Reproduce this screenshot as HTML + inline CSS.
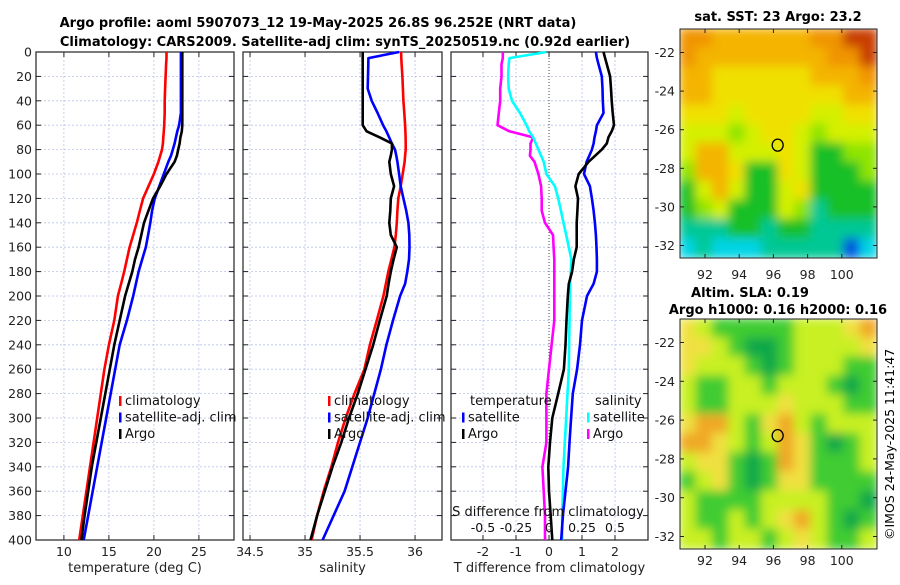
<!DOCTYPE html>
<html><head><meta charset="utf-8"><style>
body{margin:0;background:#fff;width:900px;height:580px;overflow:hidden}
svg{font-family:"DejaVu Sans","Liberation Sans",sans-serif}
</style></head><body>
<svg id="fig" width="900" height="580" xmlns="http://www.w3.org/2000/svg">
<defs><filter id="bl" x="0" y="0" width="1" height="1"><feGaussianBlur stdDeviation="5"/></filter>
<clipPath id="c1"><rect x="680" y="29" width="197" height="229"/></clipPath>
<clipPath id="c2"><rect x="680" y="319" width="197" height="230"/></clipPath></defs>
<text x="318" y="27" text-anchor="middle" font-size="13" font-weight="bold">Argo profile: aoml 5907073_12 19-May-2025 26.8S 96.252E (NRT data)</text>
<text x="345" y="46" text-anchor="middle" font-size="13" font-weight="bold">Climatology: CARS2009. Satellite-adj clim: synTS_20250519.nc (0.92d earlier)</text>
<g id="plots"></g>
<g id="maps"></g>
<text x="778" y="21" text-anchor="middle" font-size="13" font-weight="bold">sat. SST: 23 Argo: 23.2</text>
<text x="750" y="297" text-anchor="middle" font-size="13" font-weight="bold">Altim. SLA: 0.19</text>
<text x="778" y="314" text-anchor="middle" font-size="13" font-weight="bold">Argo h1000: 0.16 h2000: 0.16</text>
<text transform="translate(894,540) rotate(-90)" font-size="12.5">©IMOS 24-May-2025 11:41:47</text>
</svg>
<script>
const depths=[0,5,10,20,30,40,50,60,65,70,75,80,85,90,100,110,120,130,140,150,160,170,180,190,200,220,240,260,280,300,320,340,360,380,400];
const tempClim=[21.4,21.4,21.35,21.3,21.25,21.2,21.2,21.15,21.1,21.05,21.0,20.9,20.7,20.5,20.0,19.4,18.8,18.45,18.1,17.7,17.3,17.0,16.7,16.35,16.0,15.6,15.0,14.5,14.1,13.7,13.3,12.9,12.5,12.1,11.7];
const tempSat=[23.0,23.0,23.0,23.0,23.0,23.0,23.0,22.8,22.6,22.45,22.3,22.1,21.9,21.6,21.1,20.6,20.1,19.8,19.6,19.35,19.1,18.7,18.3,18.0,17.7,17.0,16.2,15.7,15.2,14.7,14.2,13.7,13.2,12.7,12.2];
const tempArgo=[23.15,23.15,23.15,23.15,23.15,23.15,23.15,23.15,23.1,22.95,22.85,22.7,22.55,22.3,21.4,20.7,19.9,19.4,18.9,18.6,18.3,17.9,17.6,17.2,16.8,16.2,15.6,15.1,14.6,14.1,13.6,13.1,12.7,12.3,11.95];
const salClim=[35.873,35.875,35.878,35.885,35.89,35.894,35.902,35.91,35.912,35.914,35.915,35.915,35.91,35.905,35.888,35.87,35.848,35.84,35.834,35.825,35.812,35.785,35.757,35.735,35.712,35.652,35.59,35.54,35.45,35.37,35.30,35.24,35.17,35.11,35.06];
const salSat=[35.855,35.576,35.575,35.572,35.57,35.606,35.66,35.71,35.74,35.765,35.79,35.818,35.83,35.84,35.855,35.87,35.894,35.92,35.94,35.948,35.95,35.945,35.93,35.91,35.864,35.80,35.74,35.69,35.63,35.57,35.50,35.43,35.36,35.26,35.16];
const salArgo=[35.524,35.524,35.524,35.524,35.524,35.524,35.524,35.524,35.56,35.68,35.79,35.79,35.78,35.766,35.78,35.81,35.78,35.775,35.766,35.78,35.834,35.805,35.78,35.76,35.742,35.68,35.62,35.55,35.48,35.40,35.33,35.25,35.18,35.11,35.05];
const tdiffArgo=[1.65,1.7,1.75,1.85,1.88,1.9,1.93,1.97,1.9,1.8,1.75,1.6,1.4,1.2,0.9,0.8,0.88,0.86,0.84,0.84,0.84,0.75,0.7,0.6,0.57,0.53,0.5,0.45,0.28,0.1,0.03,-0.02,0.0,0.05,0.1];
const tdiffSat=[1.42,1.45,1.5,1.6,1.62,1.63,1.65,1.45,1.42,1.38,1.35,1.3,1.22,1.14,1.06,1.24,1.3,1.35,1.39,1.42,1.44,1.45,1.45,1.35,1.15,1.0,0.94,0.85,0.72,0.67,0.62,0.58,0.5,0.42,0.37];
const sdiffArgo=[-0.35,-0.35,-0.36,-0.36,-0.37,-0.37,-0.38,-0.39,-0.3,-0.12,-0.14,-0.14,-0.145,-0.11,-0.08,-0.06,-0.055,-0.055,-0.03,0.03,0.035,0.04,0.04,0.04,0.04,0.04,0.02,0.0,-0.02,-0.02,-0.02,-0.05,-0.04,-0.03,-0.03];
const sdiffSat=[-0.02,-0.30,-0.305,-0.31,-0.305,-0.28,-0.22,-0.17,-0.15,-0.12,-0.1,-0.08,-0.06,-0.04,-0.02,0.045,0.07,0.09,0.11,0.13,0.15,0.17,0.165,0.16,0.158,0.155,0.152,0.15,0.14,0.13,0.12,0.11,0.105,0.1,0.1];
const depthTicks=[0,20,40,60,80,100,120,140,160,180,200,220,240,260,280,300,320,340,360,380,400];
const tempTicks=[10,15,20,25];
const salTicks=[34.5,35,35.5,36];
const tdiffTicks=[-2,-1,0,1,2];
const sdiffTicks=[-0.5,-0.25,0,0.25,0.5];
const sdiffTickLabels=["-0.5","-0.25","0","0.25","0.5"];

const NS="http://www.w3.org/2000/svg";
const plots=document.getElementById('plots');
function mk(tag,attrs,parent){const e=document.createElementNS(NS,tag);for(const k in attrs)e.setAttribute(k,attrs[k]);(parent||plots).appendChild(e);return e;}
const Y0=52,Y1=540;
const yScale=d=>Y0+(d-0)/400*(Y1-Y0);

const panels=[
 {x0:36,x1:234,lo:6.9,hi:28.9,ticks:tempTicks,labels:tempTicks.map(String),xlabel:"temperature (deg C)",name:"temperature-panel",ylab:true},
 {x0:243,x1:442,lo:34.436,hi:36.245,ticks:salTicks,labels:salTicks.map(String),xlabel:"salinity",name:"salinity-panel"},
 {x0:451,x1:648,lo:-2.97,hi:3.0,ticks:tdiffTicks,labels:tdiffTicks.map(String),xlabel:"T difference from climatology",name:"difference-panel"}
];
panels.forEach(p=>{p.sx=v=>p.x0+(v-p.lo)/(p.hi-p.lo)*(p.x1-p.x0);});

panels.forEach((p,i)=>{
  const g=mk('g',{});
  
  
  depthTicks.forEach(d=>{
    const y=yScale(d);
    const gl=mk('line',{x1:p.x0,x2:p.x1,y1:y,y2:y,stroke:'#b8c4e8','stroke-width':0.8,'stroke-dasharray':'2,2'},g);
    
    
    mk('line',{x1:p.x0,x2:p.x0+5,y1:y,y2:y,stroke:'#222'},g);
    mk('line',{x1:p.x1-5,x2:p.x1,y1:y,y2:y,stroke:'#222'},g);
    if(p.ylab){const t=mk('text',{x:p.x0-4,y:y+4.5,'text-anchor':'end','font-size':12.5,fill:'#222'},g);t.textContent=d;
      
      }
  });
  p.ticks.forEach((v,k)=>{
    const x=p.sx(v);
    const gl=mk('line',{x1:x,x2:x,y1:Y0,y2:Y1,stroke:(i==2&&v==0)?'#444':'#b8c4e8','stroke-width':(i==2&&v==0)?1:0.8,'stroke-dasharray':(i==2&&v==0)?'1,2':'2,2'},g);
    
    
    mk('line',{x1:x,x2:x,y1:Y1-5,y2:Y1,stroke:'#222'},g);
    mk('line',{x1:x,x2:x,y1:Y0,y2:Y0+5,stroke:'#222'},g);
    const t=mk('text',{x:x,y:556,'text-anchor':'middle','font-size':12.5,fill:'#222'},g);t.textContent=p.labels[k];
    
    
  });
  const xl=mk('text',{x:(p.x0+p.x1)/2,y:572,'text-anchor':'middle','font-size':13,fill:'#222'},g);xl.textContent=p.xlabel;
  
  
  mk('rect',{x:p.x0,y:Y0,width:p.x1-p.x0,height:Y1-Y0,fill:'none',stroke:'#222','stroke-width':1.2},g);
});

function line(vals,sx,color,name){
  const d=vals.map((v,k)=>(k?'L':'M')+sx(v).toFixed(1)+','+yScale(depths[k]).toFixed(1)).join('');
  const e=mk('path',{d:d,fill:'none',stroke:color,'stroke-width':2.6,'stroke-linejoin':'round'});
  
  
}
const P=panels;
const sdx=v=>549+v*132;
line(tempClim,P[0].sx,'#ff0000','temp-climatology-line');
line(tempSat,P[0].sx,'#0000ff','temp-satellite-line');
line(tempArgo,P[0].sx,'#000000','temp-argo-line');
line(salClim,P[1].sx,'#ff0000','sal-climatology-line');
line(salSat,P[1].sx,'#0000ff','sal-satellite-line');
line(salArgo,P[1].sx,'#000000','sal-argo-line');
line(sdiffArgo,sdx,'#ff00ff','sdiff-argo-line');
line(sdiffSat,sdx,'#00ffff','sdiff-satellite-line');
line(tdiffSat,P[2].sx,'#0000ff','tdiff-satellite-line');
line(tdiffArgo,P[2].sx,'#000000','tdiff-argo-line');

function legend(x,y,color,label,name){
  const g=mk('g',{});
  
  
  mk('rect',{x:x,y:y-9,width:2.5,height:10,fill:color},g);
  const t=mk('text',{x:x+6,y:y,'font-size':13,fill:'#111'},g);t.textContent=label;
}
[[0,'climatology','#ff0000'],[1,'satellite-adj. clim','#0000ff'],[2,'Argo','#000000']].forEach(([k,l,c])=>{
  legend(119,405+k*16.5,c,l,'legend-entry');
  legend(328,405+k*16.5,c,l,'legend-entry');
});
let t=mk('text',{x:470,y:405,'font-size':13,fill:'#111'});t.textContent='temperature';

t=mk('text',{x:595,y:405,'font-size':13,fill:'#111'});t.textContent='salinity';

legend(462,421.5,'#0000ff','satellite','legend-entry');
legend(462,438,'#000000','Argo','legend-entry');
legend(587,421.5,'#00ffff','satellite','legend-entry');
legend(587,438,'#ff00ff','Argo','legend-entry');
t=mk('text',{x:548,y:516,'text-anchor':'middle','font-size':13,fill:'#111'});t.textContent='S difference from climatology';

sdiffTicks.forEach((v,k)=>{const e=mk('text',{x:sdx(v),y:532,'text-anchor':'middle','font-size':12.5,fill:'#111'});e.textContent=sdiffTickLabels[k];
  });

// maps
const maps=document.getElementById('maps');
const sstPal={R:'#c83c00',O:'#f09400',o:'#f4b400',Y:'#f0e000',y:'#d4f000',G:'#90e400',g:'#18c028',T:'#00c894',C:'#00d4e4',B:'#0050e0'};
const sstGrid=["OOooooooOORR","OooooooooOOR","ooYYYYYYoooO","ooYYYYYYYYoo","YYYyYYYYyyYY","yyyGyYYyGyyy","yooyyyYyggGG","GooYggYygggG","gyoyggyYgggg","gGygggyGTggg","TTTggTggTTTT","CTCCCTTTTTBC"];
const slaPal={Y:'#f0e040',y:'#c8f020',O:'#f0a828',G:'#40cc30',D:'#10a848',g:'#90e820'};
const slaGrid=["YyGGGGGyyyYO","YYyGDDGyyyyY","YyyyGDGyyyGG","yGGyyGyyyGDG","yGGyyyYyyyGG","YOOyGYOyGyyy","OOYyGyOYGDGy","yYYGDGOYGGGy","GyYGDGYYGGGG","yGGGGyyyyGGD","yGGyGyYOyGDG","yyGyyGyYyGGy"];
function drawMap(x0,y0,w,h,grid,pal,clip,name,latY0,latStep,lonX0,lonStep,tickY){
  const g=document.createElementNS(NS,'g');maps.appendChild(g);
  
  
  const inner=mk('g',{'clip-path':'url(#'+clip+')'},g);
  const fg=mk('g',{filter:'url(#bl)'},inner);
  const cw=w/12,ch=h/12;
  grid.forEach((row,r)=>row.split('').forEach((c,k)=>mk('rect',{x:x0+k*cw-1,y:y0+r*ch-1,width:cw+2,height:ch+2,fill:pal[c]},fg)));
  mk('rect',{x:x0,y:y0,width:w,height:h,fill:'none',stroke:'#222','stroke-width':1},g);
  [-22,-24,-26,-28,-30,-32].forEach(l=>{const y=latY0+(-22-l)*latStep;
    mk('line',{x1:x0,x2:x0+4,y1:y,y2:y,stroke:'#222'},g);mk('line',{x1:x0+w-4,x2:x0+w,y1:y,y2:y,stroke:'#222'},g);
    const e=mk('text',{x:x0-5,y:y+4.5,'text-anchor':'end','font-size':12.5,fill:'#222'},g);e.textContent=l;});
  [92,94,96,98,100].forEach(l=>{const x=lonX0+(l-92)*lonStep;
    mk('line',{x1:x,x2:x,y1:y0+h-4,y2:y0+h,stroke:'#222'},g);mk('line',{x1:x,x2:x,y1:y0,y2:y0+4,stroke:'#222'},g);
    const e=mk('text',{x:x,y:tickY,'text-anchor':'middle','font-size':12.5,fill:'#222'},g);e.textContent=l;});
  const cx=lonX0+(96.25-92)*lonStep, cy=latY0+4.8*latStep;
  const c=mk('ellipse',{cx:cx,cy:cy,rx:5.5,ry:6,fill:'none',stroke:'#000','stroke-width':1.3},g);
  
  
}
drawMap(680,29,197,229,sstGrid,sstPal,'c1','sst-map',52.5,19.3,705,17.1,279);
drawMap(680,319,197,230,slaGrid,slaPal,'c2','sla-map',342.5,19.4,705,17.1,565);
</script>
</body></html>
